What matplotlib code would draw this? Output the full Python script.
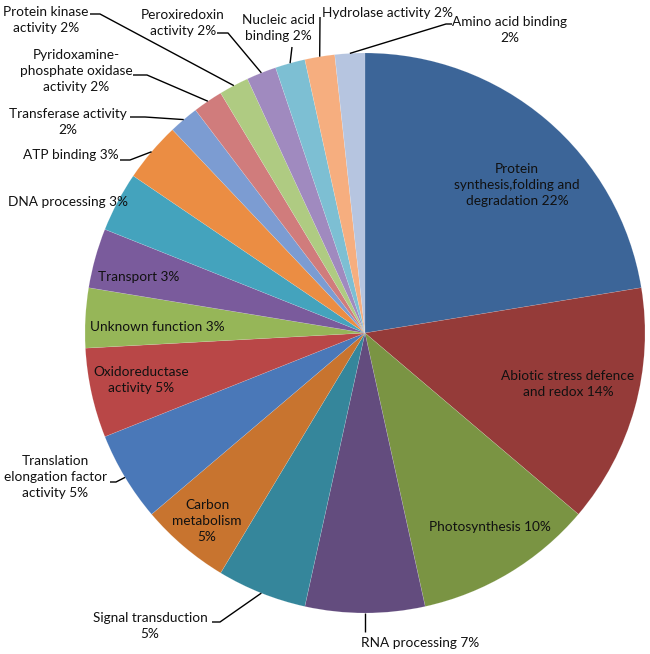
import matplotlib
matplotlib.use("Agg")
import matplotlib.pyplot as plt
import numpy as np

# protein counts per functional category (n = 58)
categories = [
    "Protein\nsynthesis,folding and\ndegradation 22%",
    "Abiotic stress defence\nand redox 14%",
    "Photosynthesis 10%",
    "RNA processing 7%",
    "Signal transduction\n5%",
    "Carbon\nmetabolism\n5%",
    "Translation\nelongation factor\nactivity 5%",
    "Oxidoreductase\nactivity 5%",
    "Unknown function 3%",
    "Transport 3%",
    "DNA processing 3%",
    "ATP binding 3%",
    "Transferase activity\n2%",
    "Pyridoxamine-\nphosphate oxidase\nactivity 2%",
    "Protein kinase\nactivity 2%",
    "Peroxiredoxin\nactivity 2%",
    "Nucleic acid\nbinding 2%",
    "Hydrolase activity 2%",
    "Amino acid binding\n2%",
]
counts = [13, 8, 6, 4, 3, 3, 3, 3, 2, 2, 2, 2, 1, 1, 1, 1, 1, 1, 1]
colors = [
    "#3c6598", "#953b39", "#7a9443", "#634c7e", "#35869b", "#c8742f",
    "#4a78b8", "#b94747", "#96b658", "#7a5b9c", "#44a3bd", "#eb8d43",
    "#7c9cd2", "#d07c7c", "#afcb82", "#a08abf", "#7dbfd3", "#f6ae7f",
    "#b6c5e0",
]

# layout in pixels of the 650x654 picture
cx, cy, r = 365, 333, 280
label_pos = [
    (517, 185), (568, 384), (490, 527), (420, 643), (150, 626),
    (207, 521), (55, 477), (141, 380), (157, 327), (139, 277),
    (68, 202), (71, 155), (68, 122), (76, 71), (46, 20),
    (183, 23), (278, 28), (387, 13), (510, 30),
]
# (attach point, knee point) for labels with leader lines
leaders = {
    3: ((365, 632), (365, 632)),
    4: ((212, 622), (220, 622)),
    6: ((110, 482), (116, 482)),
    11: ((120, 160), (130, 160)),
    12: ((130, 117), (145, 117)),
    13: ((133, 75), (147, 75)),
    14: ((90, 14), (100, 14)),
    15: ((217, 33), (228, 33)),
    16: ((292, 47), (292, 47)),
    17: ((320, 17), (320, 17)),
    18: ((452, 24), (446, 24)),
}


def px(x, y):
    return (x - cx) / r, (cy - y) / r


plt.rcParams['font.family'] = ['Lato', 'DejaVu Sans']

fig = plt.figure(figsize=(6.5, 6.54), dpi=100)
ax = fig.add_axes([0, 0, 1, 1])
wedges, _ = ax.pie(counts, colors=colors, startangle=90, counterclock=False,
                   radius=1, center=(0, 0),
                   wedgeprops=dict(linewidth=0.3, edgecolor="#ffffff40"))

for i, w in enumerate(wedges):
    x, y = px(*label_pos[i])
    ax.text(x, y, categories[i], ha='center', va='center', multialignment='center',
            fontsize=9.8, color='#111111', linespacing=1.42)
    if i in leaders:
        mid = np.deg2rad((w.theta1 + w.theta2) / 2)
        ex, ey = np.cos(mid), np.sin(mid)
        a = px(*leaders[i][0])
        k = px(*leaders[i][1])
        ax.plot([a[0], k[0], ex], [a[1], k[1], ey], color='black', lw=1.0,
                solid_capstyle='butt')

ax.set_xlim(-cx / r, (650 - cx) / r)
ax.set_ylim((cy - 654) / r, cy / r)
ax.set_aspect('auto')
ax.axis('off')

fig.savefig("out.png", dpi=100, facecolor='white')
